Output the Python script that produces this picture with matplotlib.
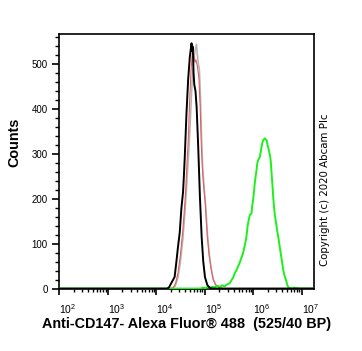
import numpy as np
import matplotlib
matplotlib.use("Agg")
import matplotlib.pyplot as plt
from matplotlib.ticker import FixedLocator, NullFormatter
from matplotlib.transforms import ScaledTranslation

plt.rcParams['font.family'] = ['Liberation Sans', 'DejaVu Sans']
plt.rcParams['mathtext.fontset'] = 'custom'
plt.rcParams['mathtext.rm'] = 'Liberation Sans'

# ---- data (log10 of fluorescence, counts) ----
black_logx = [1.99, 4.22, 4.26, 4.31, 4.38, 4.416, 4.449, 4.485, 4.52, 4.553, 4.57, 4.589, 4.624,
              4.658, 4.693, 4.728, 4.74, 4.75, 4.76, 4.77, 4.785, 4.81, 4.833, 4.866, 4.901,
              4.937, 4.97, 5.005, 5.053, 5.11, 5.17, 7.26]
black_counts = [0, 0, 2, 12, 26, 60, 93, 125, 180, 215, 250, 294, 391,
                465, 517, 547, 530, 540, 520, 480, 455, 440, 405, 316, 205,
                115, 60, 26, 8, 1, 0, 0]

red_logx = [1.99, 4.27, 4.345, 4.401, 4.449, 4.499, 4.553, 4.603, 4.63, 4.66, 4.69, 4.72, 4.745,
            4.76, 4.78, 4.80, 4.82, 4.85, 4.88, 4.905, 4.93, 4.955, 4.98, 5.01, 5.05, 5.09,
            5.13, 5.17, 5.22, 5.29, 5.37, 7.26]
red_counts = [0, 0, 1, 12, 35, 75, 135, 210, 270, 330, 420, 490, 525,
              533, 520, 505, 510, 495, 470, 410, 320, 260, 225, 190, 120, 75,
              45, 22, 9, 3, 0, 0]

grey_logx = [1.99, 4.31, 4.39, 4.45, 4.50, 4.55, 4.60, 4.64, 4.68, 4.71, 4.74, 4.77, 4.80, 4.83,
             4.85, 4.87, 4.89, 4.91, 4.935, 4.96, 4.99, 5.02, 5.06, 5.10, 5.14, 5.18, 5.23,
             5.30, 5.38, 7.26]
grey_counts = [0, 0, 5, 25, 60, 110, 180, 250, 320, 390, 460, 505, 530, 545,
               520, 500, 490, 440, 340, 270, 225, 185, 118, 72, 42, 20, 8,
               2, 0, 0]

green_logx = [1.99, 4.91, 4.96, 5.01, 5.06, 5.11, 5.16, 5.21, 5.26, 5.31, 5.36, 5.41, 5.46, 5.515,
              5.56, 5.59, 5.62, 5.66, 5.69, 5.72, 5.755, 5.79, 5.825, 5.86, 5.885, 5.915,
              5.935, 5.965, 5.98, 5.997, 6.015, 6.032, 6.05, 6.068, 6.085, 6.10, 6.12, 6.135,
              6.155, 6.17, 6.19, 6.205, 6.225, 6.24, 6.255, 6.275, 6.295, 6.31, 6.33, 6.345,
              6.36, 6.38, 6.40, 6.415, 6.43, 6.445, 6.463, 6.49, 6.517, 6.544, 6.567, 6.594,
              6.62, 6.648, 6.676, 6.703, 6.724, 6.75, 6.8, 6.85, 6.9, 6.95, 7.26]
green_counts = [0, 0, 2, 1, 3, 2, 4, 3, 6, 4, 7, 5, 9, 12,
                20, 25, 35, 42, 50, 57, 68, 79, 95, 115, 140, 157,
                165, 168, 185, 197, 215, 235, 250, 264, 280, 286, 290, 293,
                305, 315, 325, 331, 333, 335, 333, 331, 320, 315, 304, 298,
                286, 255, 226, 200, 181, 165, 152, 132, 115, 95, 79, 60,
                41, 28, 19, 8, 3, 1, 0, 2, 1, 0, 0]

x_major_exp = [2, 3, 4, 5, 6, 7]
y_major = [0, 100, 200, 300, 400, 500]

# ---- figure ----
fig = plt.figure(figsize=(3.62, 3.51), dpi=100)
ax = fig.add_axes([0.162, 0.1766, 0.706, 0.7257])

ax.plot(10 ** np.array(grey_logx), grey_counts, color='#b4b4b4', lw=1.1, zorder=2)
ax.plot(10 ** np.array(red_logx), red_counts, color='#e06060', lw=0.8, zorder=3)
ax.plot(10 ** np.array(green_logx), green_counts, color='#1cf01c', lw=1.4, zorder=4)
ax.plot(10 ** np.array(black_logx), black_counts, color='black', lw=1.4, zorder=5)

ax.set_xscale('log')
ax.set_xlim(10 ** 1.988, 10 ** 7.258)
ax.set_ylim(-1, 567)

for s in ax.spines.values():
    s.set_linewidth(1.2)

# x ticks
ax.xaxis.set_major_locator(FixedLocator([10.0 ** e for e in x_major_exp]))
minors = [m * 10.0 ** e for e in range(2, 7) for m in range(2, 10)]
ax.xaxis.set_minor_locator(FixedLocator(minors))
ax.xaxis.set_minor_formatter(NullFormatter())
ax.set_xticklabels([r'$\mathregular{10^{%d}}$' % e for e in x_major_exp], ha='left')
off = ScaledTranslation(2 / 100, 0, fig.dpi_scale_trans)
for lab in ax.get_xticklabels():
    lab.set_transform(lab.get_transform() + off)
ax.tick_params(axis='x', which='major', direction='out', length=4.5, width=1.2, labelsize=7.5, pad=5)
ax.tick_params(axis='x', which='minor', direction='out', length=2.5, width=1.0)

# y ticks
ax.set_yticks(y_major)
ax.yaxis.set_minor_locator(FixedLocator(list(range(0, 561, 20))))
ax.tick_params(axis='y', which='major', direction='out', length=5, width=1.2, labelsize=7, pad=3)
ax.tick_params(axis='y', which='minor', direction='out', length=3, width=1.0)

ax.set_xlabel('Anti-CD147- Alexa Fluor® 488  (525/40 BP)', fontsize=10.4, fontweight='bold')
ax.xaxis.set_label_coords(0.5, -0.108)
ax.set_ylabel('Counts', fontsize=10.4, fontweight='bold')
ax.yaxis.set_label_coords(-0.1475, 0.575)

fig.text(325 / 362, 1 - 190 / 351, 'Copyright (c) 2020 Abcam Plc', rotation=90,
         ha='center', va='center', fontsize=7.4, family='DejaVu Sans')

fig.savefig('out.png', dpi=100)
